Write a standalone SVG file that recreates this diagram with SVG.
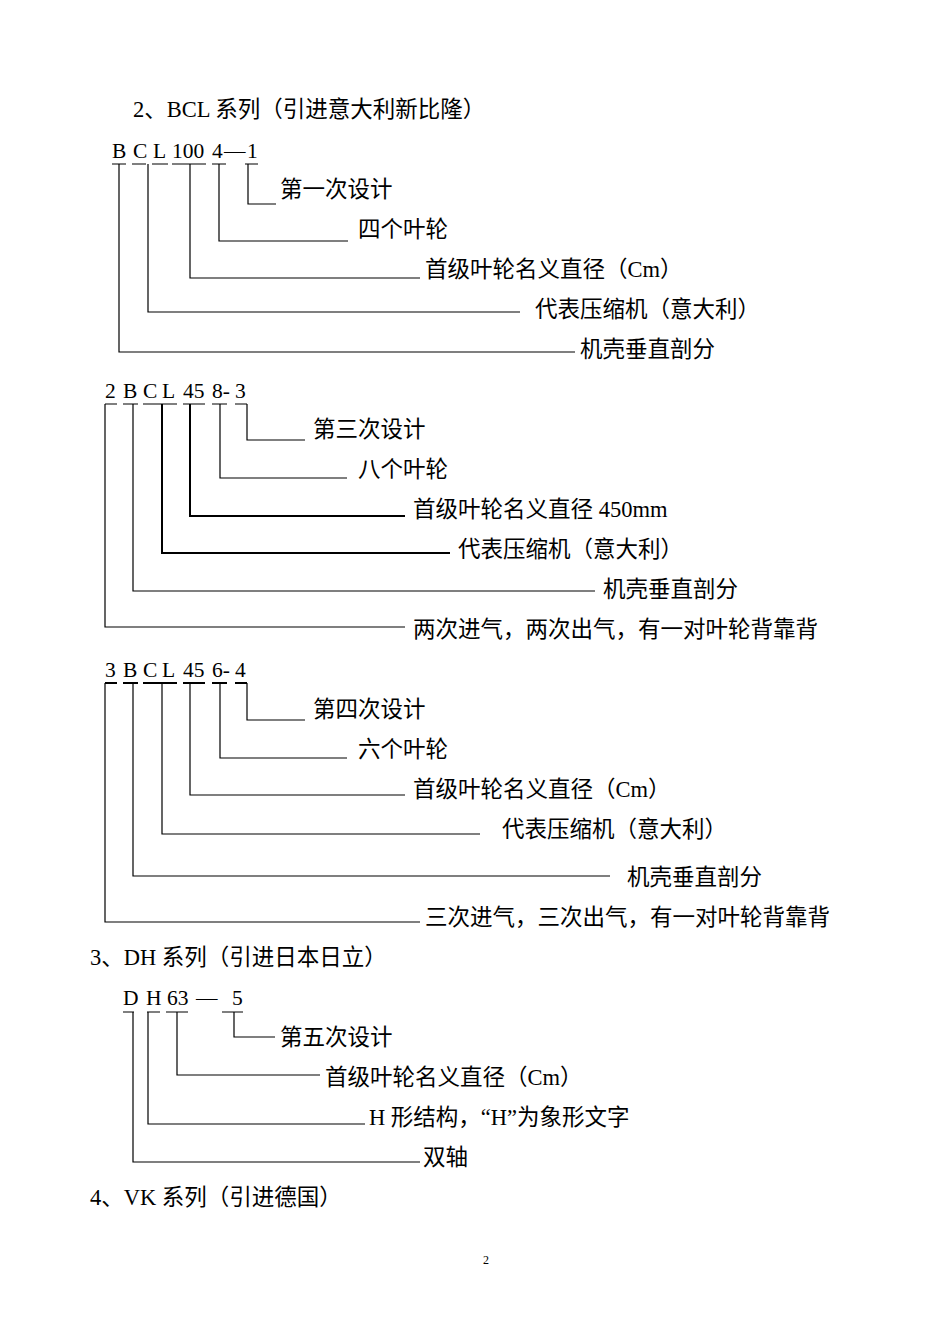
<svg xmlns="http://www.w3.org/2000/svg" width="950" height="1344" viewBox="0 0 950 1344">
<style>
text{font-family:"Liberation Serif","Noto Sans CJK SC",serif;font-size:21.5px;fill:#000}
.c{font-size:22.5px}
.l{fill:none;stroke:#000;stroke-width:1.2}
.t{fill:none;stroke:#000;stroke-width:2}
</style>
<rect width="950" height="1344" fill="#fff"/>
<g id="titles">
<text class="c" x="133" y="117">2、BCL 系列（引进意大利新比隆）</text>
<text class="c" x="90" y="965">3、DH 系列（引进日本日立）</text>
<text class="c" x="90" y="1205">4、VK 系列（引进德国）</text>
<text x="483" y="1264" style="font-size:12px">2</text>
</g>
<g id="code1">
<text x="112" y="158">B</text><text x="133" y="158">C</text><text x="153" y="158">L</text><text x="172" y="158">100</text><text x="212" y="158">4</text><text x="224" y="158">—</text><text x="247" y="158">1</text>
</g>
<g id="labels1" class="c">
<text class="c" x="280" y="197">第一次设计</text>
<text class="c" x="358" y="237">四个叶轮</text>
<text class="c" x="425" y="277">首级叶轮名义直径（Cm）</text>
<text class="c" x="535" y="317">代表压缩机（意大利）</text>
<text class="c" x="580" y="357">机壳垂直剖分</text>
</g>
<g id="code2">
<text x="105" y="398">2</text><text x="123" y="398">B</text><text x="143" y="398">C</text><text x="162" y="398">L</text><text x="183" y="398">45</text><text x="212" y="398">8-</text><text x="235" y="398">3</text>
</g>
<g id="labels2">
<text class="c" x="313" y="437">第三次设计</text>
<text class="c" x="358" y="477">八个叶轮</text>
<text class="c" x="413" y="517">首级叶轮名义直径 450mm</text>
<text class="c" x="458" y="557">代表压缩机（意大利）</text>
<text class="c" x="603" y="597">机壳垂直剖分</text>
<text class="c" x="413" y="637">两次进气，两次出气，有一对叶轮背靠背</text>
</g>
<g id="code3">
<text x="105" y="677">3</text><text x="123" y="677">B</text><text x="143" y="677">C</text><text x="162" y="677">L</text><text x="183" y="677">45</text><text x="212" y="677">6-</text><text x="235" y="677">4</text>
</g>
<g id="labels3">
<text class="c" x="313" y="717">第四次设计</text>
<text class="c" x="358" y="757">六个叶轮</text>
<text class="c" x="413" y="797">首级叶轮名义直径（Cm）</text>
<text class="c" x="502" y="837">代表压缩机（意大利）</text>
<text class="c" x="627" y="885">机壳垂直剖分</text>
<text class="c" x="425" y="925">三次进气，三次出气，有一对叶轮背靠背</text>
</g>
<g id="code4">
<text x="123" y="1005">D</text><text x="146" y="1005">H</text><text x="167" y="1005">63</text><text x="196" y="1005">—</text><text x="232" y="1005">5</text>
</g>
<g id="labels4">
<text class="c" x="280" y="1045">第五次设计</text>
<text class="c" x="325" y="1085">首级叶轮名义直径（Cm）</text>
<text class="c" x="369" y="1125">H 形结构，“H”为象形文字</text>
<text class="c" x="423" y="1165">双轴</text>
</g>
<g id="connectors">
<path class="l" d="M112 164H126M132 164H146M152 164H168M172 164H206M212 164H226M245 164H258"/>
<path class="l" d="M248 164V204H276M219 164V241H348M190 164V278H420M148 164V312H520M119 164V352H575"/>
<path class="l" d="M105 404H117M123 404H138M143 404H177M183 404H205M212 404H227M235 404H247"/>
<path class="l" d="M247 404V440H305M220 404V478H347M133 404V591H595M105 404V627H405"/>
<path class="t" d="M190 404V516H405M162 404V553H450"/>
<path class="t" d="M105 683H117M123 683H138M143 683H177M183 683H205M212 683H227M235 683H247"/>
<path class="l" d="M247 683V720H305M220 683V758H347M190 683V795H405M162 683V834H480M133 683V876H610M105 683V922H420"/>
<path class="l" d="M123 1012H134M147 1012H160M166 1012H188M222 1012H243"/>
<path class="l" d="M234 1012V1037H275M177 1012V1075H320M148 1012V1124H365M133 1012V1162H420"/>
</g>
</svg>
